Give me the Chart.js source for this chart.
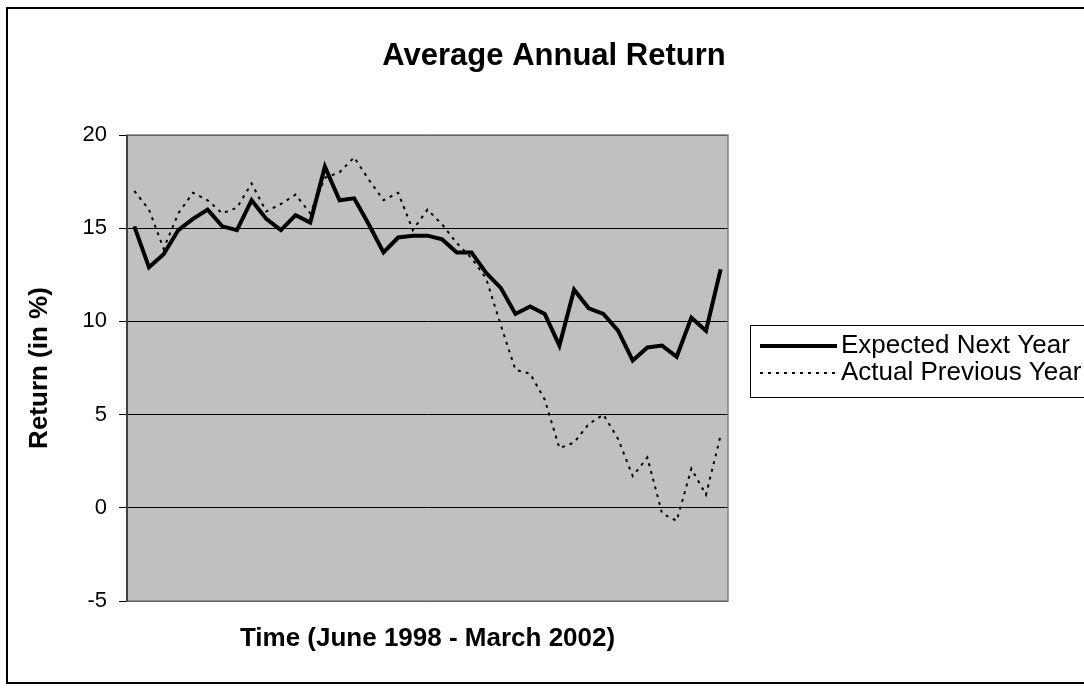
<!DOCTYPE html>
<html>
<head>
<meta charset="utf-8">
<script src="https://cdn.jsdelivr.net/npm/chart.js@4.4.0/dist/chart.umd.min.js"></script>
<style>
  html, body { margin: 0; padding: 0; background: #fff; }
</style>
</head>
<body>
<canvas id="myChart" width="1084" height="688"></canvas>
<script>
// periods between June 1998 and March 2002 (axis labels are hidden)
const periods = ['1', '2', '3', '4', '5', '6', '7', '8', '9', '10',
    '11', '12', '13', '14', '15', '16', '17', '18', '19', '20',
    '21', '22', '23', '24', '25', '26', '27', '28', '29', '30',
    '31', '32', '33', '34', '35', '36', '37', '38', '39', '40', '41'];

const expectedNextYear = [15.1, 12.9, 13.6, 14.9, 15.5, 16.0, 15.1, 14.9, 16.5, 15.5,
    14.9, 15.7, 15.3, 18.3, 16.5, 16.6, 15.2, 13.7, 14.5, 14.6,
    14.6, 14.4, 13.7, 13.7, 12.6, 11.8, 10.4, 10.8, 10.4, 8.7,
    11.7, 10.7, 10.4, 9.5, 7.9, 8.6, 8.7, 8.1, 10.2, 9.5, 12.8];

const actualPreviousYear = [17.0, 16.0, 13.9, 15.8, 16.9, 16.5, 15.8, 16.1, 17.4, 15.9,
    16.3, 16.8, 15.8, 17.7, 18.0, 18.8, 17.6, 16.5, 16.9, 14.9,
    16.0, 15.2, 14.2, 13.4, 12.3, 9.8, 7.4, 7.2, 5.8, 3.2,
    3.5, 4.5, 5.0, 3.7, 1.7, 2.7, -0.3, -0.7, 2.1, 0.7, 3.9];

const yTicks = [-5, 0, 5, 10, 15, 20];

const chartTitle = 'Average Annual Return';
const fontFamily = '"Liberation Sans", Arial, sans-serif';

// gray plot area, frames, title and boxed legend (Excel look)
const excelFrame = {
    id: 'excelFrame',
    beforeDraw(chart) {
        const { ctx, chartArea: a } = chart;
        ctx.save();
        ctx.fillStyle = '#fff';
        ctx.fillRect(0, 0, chart.width, chart.height);
        ctx.fillStyle = '#c0c0c0';
        ctx.fillRect(a.left, a.top, a.right - a.left, a.bottom - a.top);
        ctx.restore();
    },
    afterDraw(chart) {
        const { ctx, chartArea: a } = chart;
        ctx.save();
        // plot border
        ctx.strokeStyle = '#808080';
        ctx.lineWidth = 1.5;
        ctx.strokeRect(a.left, a.top, a.right - a.left, a.bottom - a.top);
        ctx.strokeStyle = '#404040';
        ctx.lineWidth = 2;
        ctx.beginPath();
        ctx.moveTo(a.left, a.top);
        ctx.lineTo(a.left, a.bottom);
        ctx.stroke();

        // outer chart border
        ctx.strokeStyle = '#000';
        ctx.lineWidth = 2;
        ctx.strokeRect(7, 8, 1100, 675);

        // title
        ctx.fillStyle = '#000';
        ctx.font = 'bold 31px ' + fontFamily;
        ctx.textAlign = 'center';
        ctx.textBaseline = 'middle';
        ctx.fillText(chartTitle, 554, 56);

        // legend box
        ctx.lineWidth = 1;
        ctx.strokeStyle = '#000';
        ctx.strokeRect(750.5, 325.5, 400, 72);
        ctx.font = '26px ' + fontFamily;
        ctx.textAlign = 'left';
        chart.data.datasets.forEach(function(ds, i) {
            const y = 346 + i * 27;
            ctx.beginPath();
            ctx.setLineDash(ds.borderDash || []);
            ctx.lineWidth = ds.borderWidth;
            ctx.strokeStyle = ds.borderColor;
            ctx.moveTo(760, y);
            ctx.lineTo(837, y);
            ctx.stroke();
            ctx.setLineDash([]);
            ctx.fillText(ds.label, 841, y);
        });
        ctx.restore();
    }
};

const ctx = document.getElementById('myChart').getContext('2d');

const myChart = new Chart(ctx, {
    type: 'line',
    data: {
        labels: periods,
        datasets: [{
            label: 'Expected Next Year',
            data: expectedNextYear,
            borderColor: '#000',
            borderWidth: 4,
            pointRadius: 0,
            tension: 0
        }, {
            label: 'Actual Previous Year',
            data: actualPreviousYear,
            borderColor: '#000',
            borderWidth: 2,
            borderDash: [3, 5],
            pointRadius: 0,
            tension: 0
        }]
    },
    options: {
        responsive: false,
        animation: false,
        layout: {
            padding: { top: 135, left: 0, right: 356, bottom: 0 }
        },
        plugins: {
            legend: { display: false },
            title: { display: false },
            tooltip: { enabled: false }
        },
        scales: {
            x: {
                offset: true,
                grid: { display: false },
                border: { display: false },
                ticks: { display: false },
                title: {
                    display: true,
                    text: 'Time (June 1998 - March 2002)',
                    color: '#000',
                    font: { family: fontFamily, size: 26, weight: 'bold' },
                    padding: { top: 0, bottom: 34 }
                },
                afterFit: function(scale) { scale.height = 87; }
            },
            y: {
                min: -5,
                max: 20,
                afterBuildTicks: function(scale) {
                    scale.ticks = yTicks.map(v => ({ value: v }));
                },
                grid: {
                    color: '#000',
                    lineWidth: 1,
                    tickLength: 8
                },
                border: { display: false },
                ticks: {
                    color: '#000',
                    padding: 12,
                    font: { family: fontFamily, size: 22 }
                },
                title: {
                    display: true,
                    text: 'Return (in %)',
                    color: '#000',
                    font: { family: fontFamily, size: 26, weight: 'bold' },
                    padding: { top: 24, bottom: 0 }
                },
                afterFit: function(scale) { scale.width = 127; }
            }
        }
    },
    plugins: [excelFrame]
});
</script>
</body>
</html>
